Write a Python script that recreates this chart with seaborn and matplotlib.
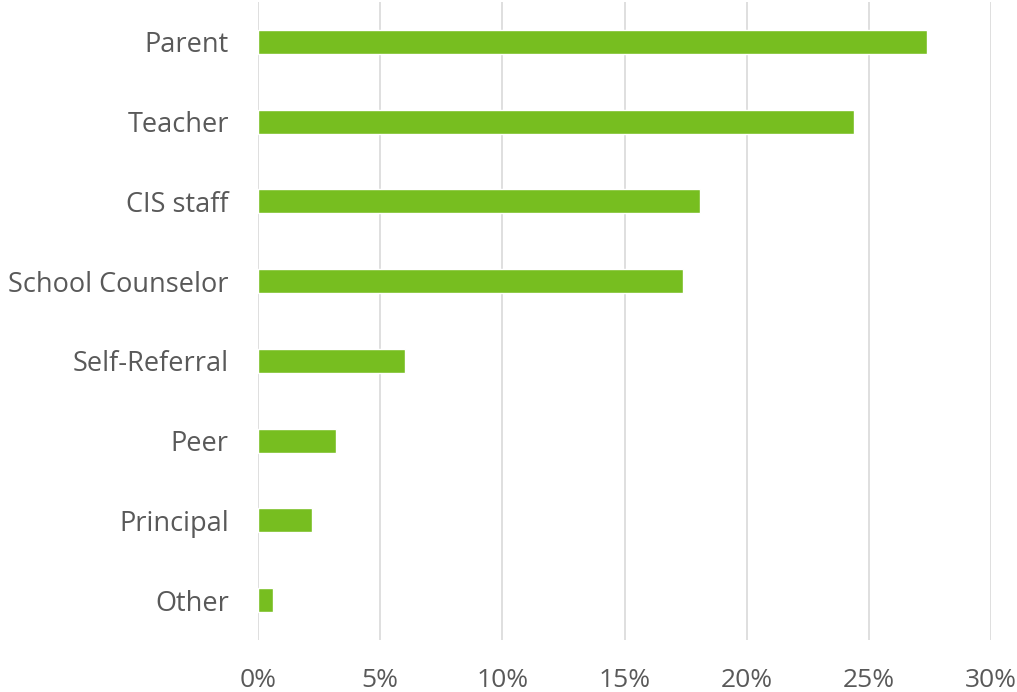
import matplotlib
matplotlib.use("Agg")
import matplotlib.pyplot as plt
import seaborn as sns
import pandas as pd
from matplotlib.ticker import FuncFormatter, MultipleLocator

categories = ["Parent", "Teacher", "CIS staff", "School Counselor", "Self-Referral", "Peer", "Principal", "Other"]
values = [27.4, 24.4, 18.1, 17.4, 6.0, 3.2, 2.2, 0.6]

df = pd.DataFrame({"category": categories, "value": values})

sns.set_theme(style="white")
plt.rcParams['font.family'] = ['Open Sans', 'DejaVu Sans']

fig = plt.figure(figsize=(10.17, 6.92), dpi=100)
ax = fig.add_axes([258/1017, 52/692, (991-258)/1017, 638/692])

sns.barplot(data=df, x="value", y="category", color="#77BE20", saturation=1, width=0.3, ax=ax, zorder=3)

ax.set_xlim(0, 30)
ax.set_ylim(7.5, -0.5)
ax.xaxis.set_major_locator(MultipleLocator(5))
ax.xaxis.set_major_formatter(FuncFormatter(lambda v, p: f"{int(round(v))}%"))
ax.grid(axis="x", color="#D9D9D9", linewidth=1.2, zorder=0)
ax.grid(axis="y", visible=False)
for s in ax.spines.values():
    s.set_visible(False)
ax.set_xlabel("")
ax.set_ylabel("")
ax.tick_params(axis="y", length=0, labelsize=19.5, labelcolor="#595959", pad=21)
ax.tick_params(axis="x", length=0, labelsize=19, labelcolor="#595959", pad=20)

fig.savefig("out.png", dpi=100)
